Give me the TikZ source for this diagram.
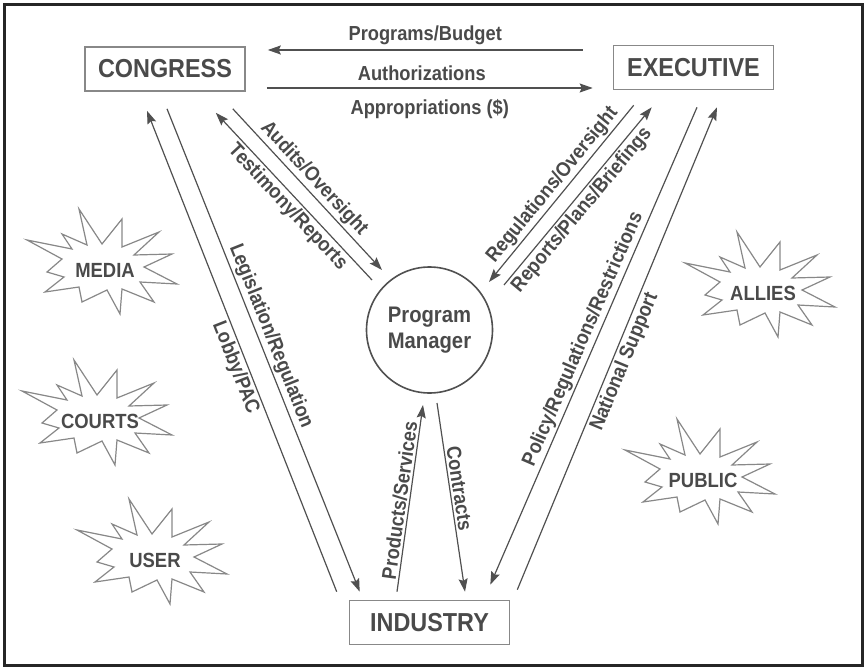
\documentclass[tikz,border=0pt]{standalone}
\usepackage{fontspec}
\setmainfont{Liberation Sans}[FakeStretch=0.9]
\usetikzlibrary{arrows.meta,positioning}

\definecolor{ink}{HTML}{4A4A4A}
\definecolor{lineg}{HTML}{505050}
\definecolor{boxg}{HTML}{888888}

\tikzset{
  burst/.pic={
    \draw[draw=boxg,line width=1.2pt,line join=miter]
      (-78,-30) -- (-33,-21) -- (-43,-36) -- (-18,-25) -- (-26,-61) -- (-3,-26)
      -- (17,-51) -- (17,-23) -- (54,-38) -- (29,-15) -- (67,-16) -- (39,-3)
      -- (72,14) -- (35,12) -- (49,32) -- (17,19) -- (15,44) -- (2,20)
      -- (-23,32) -- (-26,17) -- (-60,22) -- (-41,7) -- (-58,2) -- (-43,-11) -- cycle;
  }
}

\begin{document}
\begin{tikzpicture}[x=1pt,y=-1pt,
    >={Stealth[length=13pt,width=9pt,inset=2pt]},
    flow/.style={->,draw=lineg,line width=1.2pt},
    lab/.style={font=\fontsize{20.3}{21}\selectfont\bfseries,text=ink,inner sep=2pt},
    party/.style={draw=boxg,line width=1.6pt,minimum width=160pt,minimum height=44pt,
      inner sep=0pt,font=\fontsize{26}{28}\selectfont\bfseries,text=ink},
    outside/.style={font=\fontsize{20.5}{21}\selectfont\bfseries,text=ink,inner sep=0pt}]

  \useasboundingbox (0,0) rectangle (865,669);
  \draw[line width=2.5pt,black!85] (4.5,4.5) rectangle (862.5,665.5);

  \node[party] (cong) at (165,69) {CONGRESS};
  \node[party] (exec) at (693.5,67.5) {EXECUTIVE};
  \node[party] (ind) at (429.5,622.5) {INDUSTRY};
  \node[circle,draw=lineg,line width=1.6pt,minimum size=126pt,align=center,
    font=\fontsize{22.5}{26}\selectfont\bfseries,text=ink] (pm) at (429.5,330) {Program\\Manager};

  % outside influences
  \foreach \nm/\txt/\x/\y in {media/MEDIA/105/270, courts/COURTS/100/421,
      user/USER/155/560, allies/ALLIES/763/293, public/PUBLIC/703/480}{
    \pic at (\x,\y) {burst};
    \node[outside] (\nm) at (\x,\y) {\txt};
  }

  % congress and executive
  \draw[flow] ([shift={(-30,-17.5)}]exec.west) -- node[lab,above=3pt] {Programs/Budget} ([shift={(22,-19)}]cong.east);
  \draw[flow] ([shift={(21,19)}]cong.east) -- node[lab,above=5pt,xshift=-8pt] {Authorizations}
    node[lab,below=9pt] {Appropriations (\$)} ([shift={(-20,20.5)}]exec.west);

  % congress
  \draw[flow] ([shift={(-12,-8)}]ind.north west) -- node[lab,sloped,below,pos=0.475] {Lobby/PAC} ([shift={(-18,19)}]cong.south);
  \draw[flow] ([shift={(2,17)}]cong.south) -- node[lab,sloped,above,pos=0.48] {Legislation/Regulation} ([shift={(11,-8)}]ind.north west);
  \draw[flow] ([shift={(-13,17)}]cong.south east) -- node[lab,sloped,above,pos=0.485] {Audits/Oversight} ([shift={(-47.5,-60)}]pm.center);
  \draw[flow] ([shift={(-57.5,-50)}]pm.center) -- node[lab,sloped,below,pos=0.484] {Testimony/Reports} ([shift={(-30,21)}]cong.south east);

  % executive
  \draw[flow] ([shift={(21,15)}]exec.south west) -- node[lab,sloped,above,pos=0.496] {Regulations/Oversight} ([shift={(59.5,-48)}]pm.center);
  \draw[flow] ([shift={(74.5,-45)}]pm.center) -- node[lab,sloped,below,pos=0.465] {Reports/Plans/Briefings} ([shift={(39,17)}]exec.south west);
  \draw[flow] ([shift={(3.5,17)}]exec.south) -- node[lab,sloped,above,pos=0.496] {Policy/Regulations/Restrictions} ([shift={(-20,-15)}]ind.north east);
  \draw[flow] ([shift={(7,-10)}]ind.north east) -- node[lab,sloped,below,pos=0.482] {National Support} ([shift={(23.5,17)}]exec.south);

  % industry
  \draw[flow] ([shift={(-32.5,-8)}]ind.north) -- node[lab,sloped,above,pos=0.483] {Products/Services} ([shift={(-6.5,75)}]pm.center);
  \draw[flow] ([shift={(7.5,73)}]pm.center) -- node[lab,sloped,above,pos=0.46] {Contracts} ([shift={(35.5,-8)}]ind.north);
\end{tikzpicture}
\end{document}
